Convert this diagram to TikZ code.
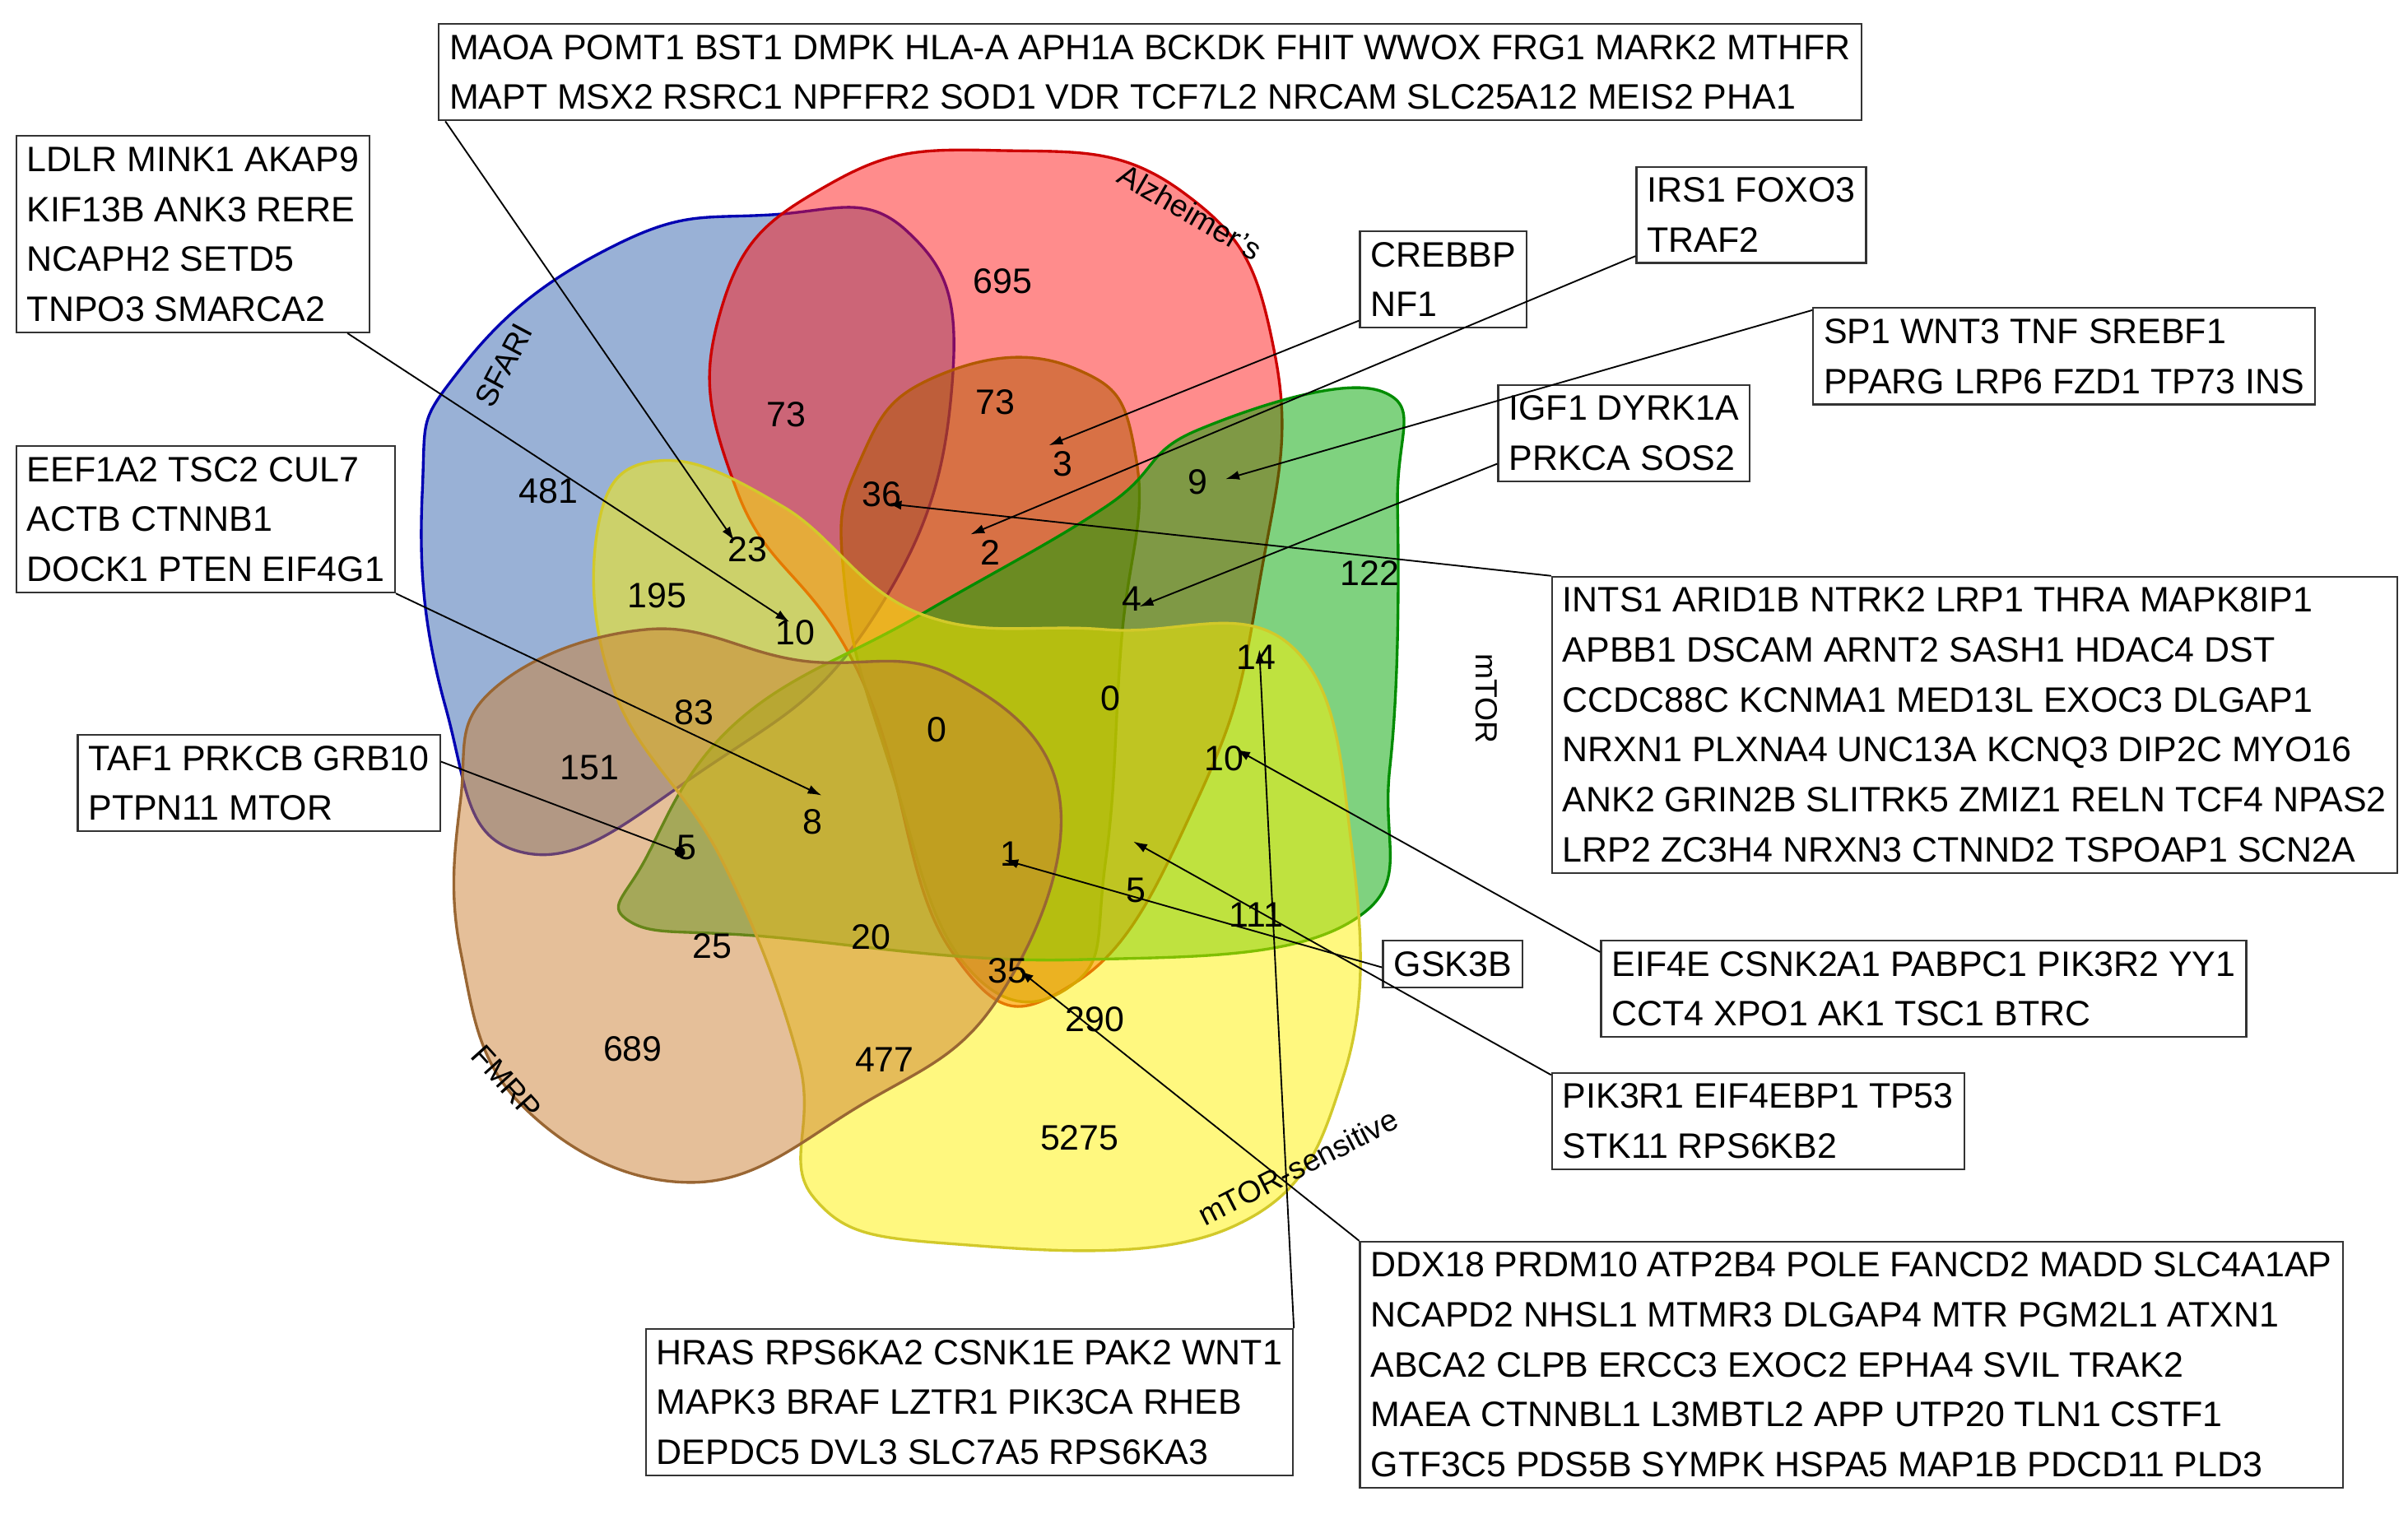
\documentclass[tikz,border=0pt]{standalone}
\usepackage{fontspec}
\setmainfont{Liberation Sans}
\usetikzlibrary{arrows.meta}
\begin{document}
\begin{tikzpicture}[x=1pt,y=-1pt,
 box/.style={draw=black!80,line width=1.2pt,fill=white,align=left,inner sep=7pt,font=\fontsize{23}{32.5}\selectfont,anchor=north west},
 num/.style={font=\fontsize{23}{24}\selectfont},
 set/.style={line width=1.8pt,fill opacity=0.5},
 lab/.style={font=\fontsize{20}{22}\selectfont},
 arr/.style={line width=1pt,-{Latex[length=9pt,width=6pt]}}]
\useasboundingbox (0,0) rectangle (1568,992);
% sets
\draw[set,draw=blue!70!black,fill=blue!60!cyan!60!black!80] plot[smooth cycle,tension=0.8] coordinates{(300,240)(400,160)(500,140)(590,150)(620,250)(570,400)(460,500)(340,555)(290,460)(275,320)};
\draw[set,draw=red!80!black,fill=red!90] plot[smooth cycle,tension=0.8] coordinates{(470,200)(540,120)(650,98)(770,125)(830,230)(820,380)(780,520)(700,640)(620,620)(560,440)(480,320)};
\draw[set,draw=orange!70!black,fill=orange!70!black] plot[smooth cycle,tension=0.8] coordinates{(560,300)(610,245)(700,240)(740,300)(730,420)(720,560)(700,640)(630,630)(580,500)(550,380)};
\draw[set,draw=green!55!black,fill=green!65!black] plot[smooth cycle,tension=0.7] coordinates{(420,560)(480,470)(600,400)(720,330)(780,280)(900,255)(910,330)(905,500)(880,600)(700,625)(500,610)(410,600)};
\draw[set,draw=yellow!80!black,fill=yellow] plot[smooth cycle,tension=0.7] coordinates{(390,340)(430,300)(510,330)(600,400)(720,410)(840,420)(880,550)(875,700)(800,800)(620,810)(530,780)(520,690)(470,560)(400,450)};
\draw[set,draw=brown!80!black,fill=brown!80!orange] plot[smooth cycle,tension=0.7] coordinates{(300,520)(320,450)(420,410)(520,430)(620,440)(690,520)(650,650)(560,720)(450,770)(340,720)(300,620)};
% set labels
\node[lab,rotate=62] (lSF) at (328,238) {SFARI};
\node[lab,rotate=-30] (lAD) at (775,138) {Alzheimer's};
\node[lab,rotate=-90] (lmT) at (968,455) {mTOR};
\node[lab,rotate=27] (lmS) at (845,760) {mTOR-sensitive};
\node[lab,rotate=-48] (lFM) at (330,705) {FMRP};
% numbers
\node[num] (n695) at (653,183) {695};
\node[num] (n73a) at (512,270) {73};
\node[num] (n73b) at (648,262) {73};
\node[num] (n3) at (692,302) {3};
\node[num] (n9) at (780,314) {9};
\node[num] (n481) at (357,320) {481};
\node[num] (n36) at (574,322) {36};
\node[num] (n23) at (487,358) {23};
\node[num] (n2) at (645,360) {2};
\node[num] (n195) at (428,388) {195};
\node[num] (n10a) at (518,412) {10};
\node[num] (n4) at (737,390) {4};
\node[num] (n122) at (892,373) {122};
\node[num] (n14) at (818,428) {14};
\node[num] (n0a) at (610,475) {0};
\node[num] (n0b) at (723,455) {0};
\node[num] (n83) at (452,464) {83};
\node[num] (n10b) at (797,494) {10};
\node[num] (n151) at (384,500) {151};
\node[num] (n8) at (529,535) {8};
\node[num] (n5a) at (447,552) {5};
\node[num] (n1) at (658,556) {1};
\node[num] (n5b) at (740,580) {5};
\node[num] (n111) at (818,596) {111};
\node[num] (n25) at (464,616) {25};
\node[num] (n20) at (567,610) {20};
\node[num] (n35) at (656,632) {35};
\node[num] (n290) at (713,664) {290};
\node[num] (n689) at (412,683) {689};
\node[num] (n477) at (576,690) {477};
\node[num] (n5275) at (703,741) {5275};
% arrow targets
\coordinate (t23) at (478,352);
\coordinate (t10) at (514,405);
\coordinate (t8) at (535,518);
\coordinate (t5) at (446,556);
\coordinate (t3) at (683,290);
\coordinate (t2) at (632,348);
\coordinate (t9) at (798,312);
\coordinate (t4) at (742,395);
\coordinate (t36) at (578,328);
\coordinate (t1) at (654,560);
\coordinate (t10b) at (805,488);
\coordinate (tP) at (738,548);
\coordinate (t35) at (664,632);
\coordinate (t14) at (820,423);
% boxes
\node[box] (bTop) at (285,15) {MAOA POMT1 BST1 DMPK HLA-A APH1A BCKDK FHIT WWOX FRG1 MARK2 MTHFR\\MAPT MSX2 RSRC1 NPFFR2 SOD1 VDR TCF7L2 NRCAM SLC25A12 MEIS2 PHA1};
\node[box] (bLD) at (10,88) {LDLR MINK1 AKAP9\\KIF13B ANK3 RERE\\NCAPH2 SETD5\\TNPO3 SMARCA2};
\node[box] (bEE) at (10,290) {EEF1A2 TSC2 CUL7\\ACTB CTNNB1\\DOCK1 PTEN EIF4G1};
\node[box] (bTA) at (50,478) {TAF1 PRKCB GRB10\\PTPN11 MTOR};
\node[box] (bCR) at (885,150) {CREBBP\\NF1};
\node[box] (bIR) at (1065,108) {IRS1 FOXO3\\TRAF2};
\node[box] (bSP) at (1180,200) {SP1 WNT3 TNF SREBF1\\PPARG LRP6 FZD1 TP73 INS};
\node[box] (bIG) at (975,250) {IGF1 DYRK1A\\PRKCA SOS2};
\node[box] (bIN) at (1010,375) {INTS1 ARID1B NTRK2 LRP1 THRA MAPK8IP1\\APBB1 DSCAM ARNT2 SASH1 HDAC4 DST\\CCDC88C KCNMA1 MED13L EXOC3 DLGAP1\\NRXN1 PLXNA4 UNC13A KCNQ3 DIP2C MYO16\\ANK2 GRIN2B SLITRK5 ZMIZ1 RELN TCF4 NPAS2\\LRP2 ZC3H4 NRXN3 CTNND2 TSPOAP1 SCN2A};
\node[box] (bGS) at (900,612) {GSK3B};
\node[box] (bEI) at (1042,612) {EIF4E CSNK2A1 PABPC1 PIK3R2 YY1\\CCT4 XPO1 AK1 TSC1 BTRC};
\node[box] (bPI) at (1010,698) {PIK3R1 EIF4EBP1 TP53\\STK11 RPS6KB2};
\node[box] (bDD) at (885,808) {DDX18 PRDM10 ATP2B4 POLE FANCD2 MADD SLC4A1AP\\NCAPD2 NHSL1 MTMR3 DLGAP4 MTR PGM2L1 ATXN1\\ABCA2 CLPB ERCC3 EXOC2 EPHA4 SVIL TRAK2\\MAEA CTNNBL1 L3MBTL2 APP UTP20 TLN1 CSTF1\\GTF3C5 PDS5B SYMPK HSPA5 MAP1B PDCD11 PLD3};
\node[box] (bHR) at (420,865) {HRAS RPS6KA2 CSNK1E PAK2 WNT1\\MAPK3 BRAF LZTR1 PIK3CA RHEB\\DEPDC5 DVL3 SLC7A5 RPS6KA3};
% arrows
\draw[arr] (bTop.south west)+(5,0) -- (t23);
\draw[arr] (bLD.south east)+(-15,0) -- (t10);
\draw[arr] (bEE.south east) -- (t8);
\draw[line width=1pt,-{Circle[length=7pt]}] (bTA.east)+(0,-14) -- (t5);
\draw[arr] (bCR.south west)+(0,-5) -- (t3);
\draw[arr] (bIR.south west)+(0,-5) -- (t2);
\draw[arr] (bSP.west)+(0,-30) -- (t9);
\draw[arr] (bIG.south west)+(0,-12) -- (t4);
\draw[arr] (bIN.north west) -- (t36);
\draw[arr] (bGS.north west)+(0,18) -- (t1);
\draw[arr] (bEI.north west)+(0,8) -- (t10b);
\draw[arr] (bPI.north west)+(0,2) -- (tP);
\draw[arr] (bDD.north west) -- (t35);
\draw[arr] (bHR.north east) -- (t14);
\end{tikzpicture}
\end{document}
